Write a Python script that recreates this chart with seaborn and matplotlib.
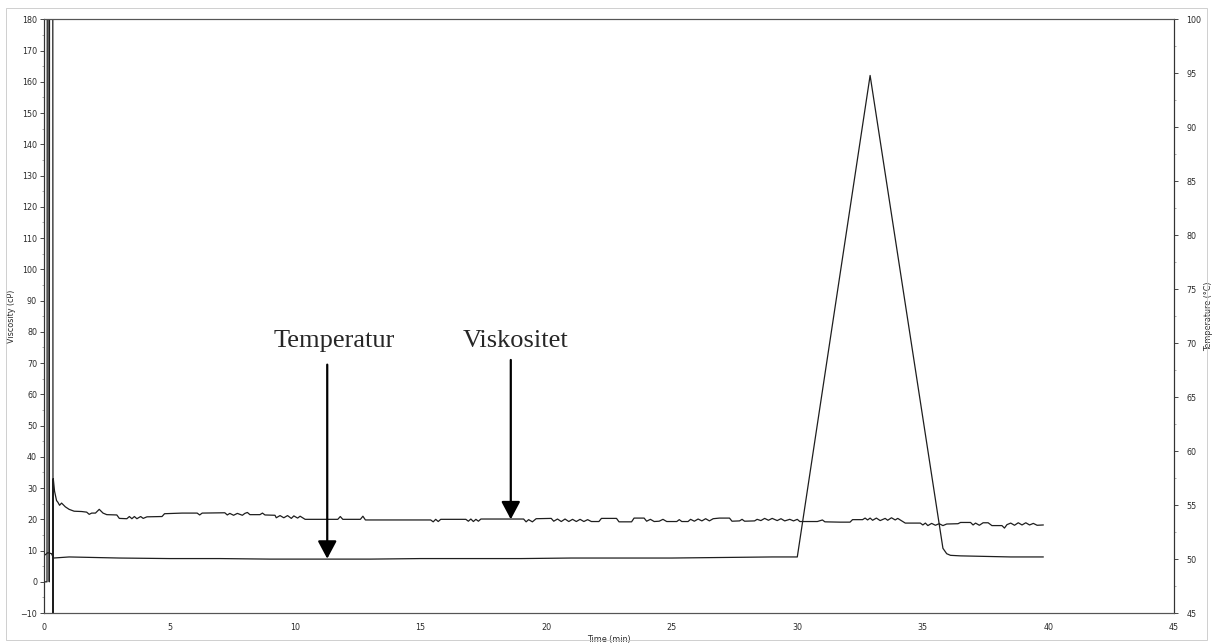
import numpy as np
import pandas as pd
import seaborn as sns
import matplotlib.pyplot as plt
from matplotlib.patches import Rectangle
from matplotlib.ticker import MultipleLocator

# viscosity trace (cP)
visc_time = [0.00, 0.12, 0.13, 0.20, 0.21, 0.22, 0.35, 0.36, 0.37, 0.42, 0.50, 0.55, 0.62, 0.70, 0.85,
             1.00, 1.20, 1.50, 1.70, 1.80, 1.90, 2.05, 2.20, 2.35, 2.50, 2.90, 3.00, 3.30, 3.40, 3.50,
             3.60, 3.70, 3.85, 3.95, 4.10, 4.70, 4.80, 5.50, 6.10, 6.20, 6.30, 7.20, 7.30, 7.40, 7.55,
             7.70, 7.90, 8.00, 8.10, 8.20, 8.60, 8.70, 8.80, 9.20, 9.25, 9.40, 9.55, 9.70, 9.85, 9.95,
             10.10, 10.20, 10.40, 11.70, 11.80, 11.90, 12.60, 12.70, 12.80, 15.40, 15.50, 15.60, 15.70,
             15.80, 16.80, 16.90, 17.00, 17.10, 17.20, 17.30, 17.40, 19.10, 19.20, 19.30, 19.45, 19.60,
             20.20, 20.30, 20.45, 20.60, 20.75, 20.90, 21.05, 21.20, 21.35, 21.50, 21.65, 21.80, 22.10,
             22.20, 22.80, 22.90, 23.40, 23.50, 23.90, 24.00, 24.15, 24.30, 24.50, 24.65, 24.80, 25.20,
             25.30, 25.40, 25.65, 25.75, 25.90, 26.05, 26.20, 26.35, 26.50, 26.65, 26.90, 27.30, 27.40,
             27.70, 27.80, 27.90, 28.30, 28.40, 28.55, 28.70, 28.85, 29.00, 29.20, 29.35, 29.50, 29.70,
             29.85, 30.00, 30.10, 30.80, 31.00, 31.10, 31.70, 32.10, 32.20, 32.60, 32.70, 32.80, 32.90,
             33.00, 33.15, 33.30, 33.50, 33.60, 33.75, 33.90, 34.00, 34.30, 34.90, 35.00, 35.10, 35.20,
             35.35, 35.50, 35.65, 35.80, 35.95, 36.40, 36.50, 36.90, 37.00, 37.10, 37.25, 37.40, 37.60,
             37.75, 38.15, 38.25, 38.35, 38.50, 38.65, 38.80, 38.95, 39.10, 39.25, 39.40, 39.55, 39.80]
visc_cp = [0, 0, 200, 200, 0, 200, 200, -20, 33, 29, 26, 25.5, 24.5, 25.2, 24.0,
           23.2, 22.6, 22.5, 22.3, 21.6, 22.0, 22.0, 23.2, 22.0, 21.5, 21.4, 20.3, 20.2, 20.9, 20.2,
           20.9, 20.2, 20.9, 20.3, 20.8, 20.9, 21.8, 22.0, 22.0, 21.4, 22.0, 22.1, 21.4, 21.9, 21.3,
           21.9, 21.3, 21.9, 22.2, 21.5, 21.5, 22.0, 21.4, 21.3, 20.5, 21.2, 20.5, 21.2, 20.3, 21.1,
           20.4, 21.0, 20.0, 20.0, 20.9, 20.0, 20.0, 21.0, 19.8, 19.8, 19.2, 20.0, 19.3,
           20.0, 20.0, 19.4, 20.1, 19.3, 20.0, 19.4, 20.1, 20.1, 19.2, 19.9, 19.2, 20.2,
           20.3, 19.4, 20.1, 19.3, 20.1, 19.3, 20.0, 19.3, 20.0, 19.3, 19.9, 19.3, 19.3,
           20.3, 20.3, 19.2, 19.2, 20.4, 20.4, 19.4, 20.0, 19.3, 19.4, 20.0, 19.3, 19.3,
           19.9, 19.3, 19.3, 20.0, 19.4, 20.1, 19.5, 20.2, 19.5, 20.2, 20.4, 20.4, 19.4,
           19.5, 20.0, 19.4, 19.5, 20.0, 19.6, 20.3, 19.7, 20.3, 19.6, 20.2, 19.5, 20.0,
           19.5, 20.0, 19.3, 19.3, 19.8, 19.2, 19.1, 19.1, 19.9, 19.9, 20.4, 19.8, 20.4,
           19.7, 20.4, 19.6, 20.3, 19.7, 20.5, 19.8, 20.3, 18.8, 18.8, 18.2, 18.8, 18.0,
           18.7, 18.1, 18.6, 18.0, 18.5, 18.6, 19.0, 19.0, 18.2, 18.8, 18.1, 18.9, 18.9,
           18.0, 18.0, 17.2, 18.3, 18.8, 18.1, 18.9, 18.2, 18.9, 18.2, 18.7, 18.1, 18.2]

# temperature trace (deg C)
temp_time = [0.05, 0.15, 0.30, 0.38, 1.0, 2.0, 3.0, 5.0, 7.0, 9.0, 11.0, 13.0, 15.0, 17.0, 19.0,
             21.0, 23.0, 25.0, 27.0, 29.0, 29.9, 30.0, 32.9, 35.8, 35.95, 36.1, 36.5, 37.5, 38.5, 39.8]
temp_c = [50.4, 50.6, 50.5, 50.1, 50.2, 50.15, 50.1, 50.05, 50.05, 50.0, 50.0, 50.0, 50.05, 50.05, 50.05,
          50.1, 50.1, 50.1, 50.15, 50.2, 50.2, 50.2, 94.8, 51.0, 50.5, 50.35, 50.3, 50.25, 50.2, 50.2]

x_ticks = list(range(0, 46, 5))
visc_ticks = list(range(-10, 181, 10))
temp_ticks = list(range(45, 101, 5))

visc_df = pd.DataFrame({"Time": visc_time, "Viscosity": visc_cp})
temp_df = pd.DataFrame({"Time": temp_time, "Temperature": temp_c})

sns.set_style("white")
plt.rcParams['font.family'] = ['DejaVu Sans']

fig = plt.figure(figsize=(12.12, 6.44), dpi=100)
ax = fig.add_axes([0.0363, 0.048, 0.9323, 0.922])
ax2 = ax.twinx()

line_col = '#1e1e1e'
sns.lineplot(data=visc_df, x="Time", y="Viscosity", ax=ax, color=line_col, lw=0.9,
             estimator=None, sort=False)
sns.lineplot(data=temp_df, x="Time", y="Temperature", ax=ax2, color=line_col, lw=0.9,
             estimator=None, sort=False)

ax.set_xlim(0, 45)
ax.set_ylim(-10, 180)
ax2.set_ylim(45, 100)
ax.set_xticks(x_ticks)
ax.set_yticks(visc_ticks)
ax2.set_yticks(temp_ticks)
ax.xaxis.set_minor_locator(MultipleLocator(1))
ax.yaxis.set_minor_locator(MultipleLocator(5))
ax2.yaxis.set_minor_locator(MultipleLocator(2.5))

tick_col = '#2a2a2a'
for a in (ax, ax2):
    a.tick_params(which='major', length=3, width=0.6, labelsize=5.8, colors=tick_col, pad=2)
    a.tick_params(which='minor', length=1.5, width=0.5, colors='#888888')
ax2.tick_params(axis='y', pad=6)
ax.tick_params(axis='x', pad=4)

ax.set_xlabel("Time (min)", fontsize=5.8, color=tick_col, labelpad=2)
ax.set_ylabel("Viscosity (cP)", fontsize=5.8, color=tick_col, labelpad=3)
ax2.set_ylabel("Temperature (\u00b0C)", fontsize=5.8, color=tick_col, labelpad=2)

for a in (ax, ax2):
    for side in ('top', 'bottom'):
        a.spines[side].set_linestyle((0, (1, 1)))
        a.spines[side].set_color('#555555')
        a.spines[side].set_linewidth(0.8)
    for side in ('left', 'right'):
        a.spines[side].set_color('#333333')
        a.spines[side].set_linewidth(0.8)

# annotations in the original document
serif = ['Liberation Serif', 'DejaVu Serif']
ax.text(11.57, 75.2, "Temperatur", fontsize=19, family=serif, ha='center', va='baseline')
ax.text(18.78, 75.2, "Viskositet", fontsize=19, family=serif, ha='center', va='baseline')
arrow = dict(arrowstyle='-|>,head_length=0.9,head_width=0.48', mutation_scale=12,
             lw=1.6, color='black', shrinkA=0, shrinkB=0)
ax.annotate('', xy=(11.28, 7.4), xytext=(11.28, 69.5), arrowprops=arrow)
ax.annotate('', xy=(18.59, 20.0), xytext=(18.59, 71.0), arrowprops=arrow)

# light scan border around the page
fig.patches.append(Rectangle((0.005, 0.006), 0.991, 0.982, transform=fig.transFigure,
                             fill=False, edgecolor='#c8c8c8', lw=0.6))

fig.savefig("out.png", dpi=100)
